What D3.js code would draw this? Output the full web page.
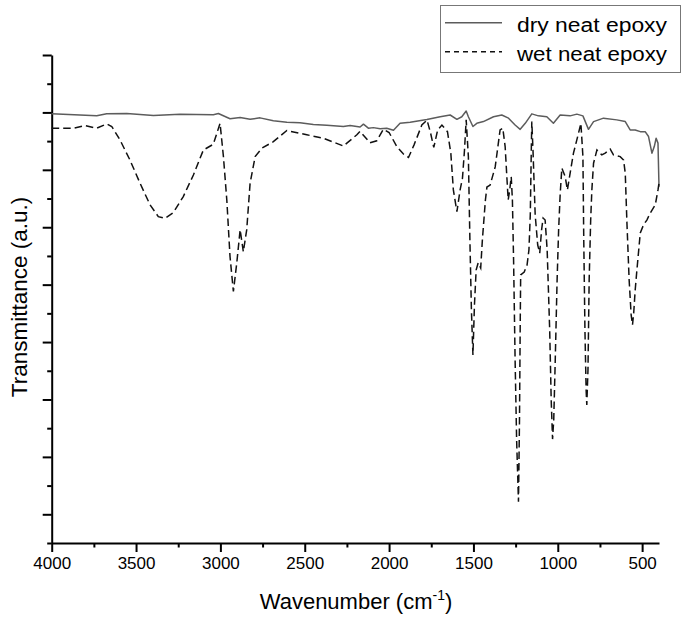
<!DOCTYPE html>
<html>
<head>
<meta charset="utf-8">
<script src="https://cdn.jsdelivr.net/npm/d3@7"></script>
<style>
  body { margin: 0; background: #fff; }
  svg { display: block; font-family: "Liberation Sans", Arial, sans-serif; }
</style>
</head>
<body>
<script>
// FTIR spectra, [wavenumber (cm-1), transmittance (a.u.)]
const dry = [
  [4000,14.95],[3733,14.88],[3674,14.95],[3555,14.96],[3397,14.89],[3239,14.94],
  [3042,14.92],[3012,14.96],[2943,14.78],[2883,14.82],[2824,14.76],[2765,14.81],
  [2686,14.71],[2606,14.66],[2528,14.64],[2449,14.58],[2369,14.55],[2271,14.51],
  [2231,14.54],[2172,14.49],[2152,14.59],[2123,14.45],[2093,14.47],[2053,14.43],
  [2014,14.45],[1974,14.38],[1935,14.62],[1875,14.66],[1776,14.75],[1697,14.85],
  [1638,14.91],[1598,14.76],[1569,14.85],[1543,15.05],[1530,14.85],[1503,14.51],
  [1480,14.62],[1441,14.68],[1381,14.85],[1332,14.91],[1292,14.80],[1253,14.56],
  [1223,14.41],[1193,14.62],[1154,14.95],[1115,14.88],[1065,14.85],[1026,14.62],
  [986,14.91],[927,14.88],[887,14.94],[851,14.88],[818,14.41],[788,14.68],
  [729,14.80],[650,14.74],[600,14.68],[571,14.39],[541,14.39],[511,14.33],
  [482,14.33],[462,14.16],[442,13.58],[428,13.81],[417,14.10],[406,13.93],[400,12.41]
];
const wet = [
  [4000,14.45],[3872,14.45],[3803,14.54],[3733,14.45],[3674,14.60],[3644,14.51],
  [3595,14.04],[3536,13.34],[3476,12.53],[3417,11.78],[3368,11.37],[3328,11.31],
  [3279,11.51],[3220,12.07],[3160,12.82],[3101,13.69],[3042,13.89],[3002,14.62],
  [2982,13.46],[2962,11.95],[2943,9.98],[2923,8.76],[2903,9.75],[2883,10.91],
  [2864,10.15],[2844,10.91],[2824,12.53],[2794,13.46],[2755,13.75],[2686,13.98],
  [2606,14.37],[2488,14.22],[2389,14.10],[2271,13.83],[2191,14.22],[2172,14.34],
  [2113,13.94],[2073,14.01],[2034,14.41],[2000,14.30],[1954,13.81],[1915,13.55],
  [1885,13.43],[1852,13.87],[1806,14.56],[1775,14.73],[1754,14.28],[1735,13.78],
  [1712,14.39],[1687,14.56],[1654,14.33],[1634,13.58],[1619,12.30],[1598,11.54],
  [1579,12.30],[1565,12.71],[1553,13.69],[1543,14.74],[1530,13.46],[1521,10.56],
  [1512,8.12],[1503,6.55],[1494,8.29],[1484,9.51],[1472,9.76],[1457,9.58],
  [1447,10.56],[1438,11.25],[1429,11.95],[1420,12.40],[1401,12.47],[1371,13.10],
  [1342,14.39],[1326,14.45],[1312,13.81],[1302,12.76],[1294,11.95],[1285,12.30],
  [1276,12.76],[1269,11.95],[1262,9.86],[1253,6.38],[1244,3.59],[1233,1.44],
  [1227,4.29],[1223,7.42],[1220,9.34],[1199,9.44],[1182,9.69],[1171,10.21],
  [1163,11.43],[1157,13.69],[1154,14.68],[1147,13.69],[1134,11.43],[1119,10.38],
  [1107,10.10],[1096,10.91],[1087,11.32],[1075,11.25],[1063,10.21],[1048,7.42],
  [1039,4.98],[1031,3.62],[1024,4.29],[1015,6.38],[1004,9.16],[995,10.91],
  [986,12.13],[976,13.06],[956,12.76],[943,12.30],[927,12.88],[907,13.58],
  [877,14.28],[863,14.62],[851,13.46],[846,10.56],[839,7.42],[832,5.33],
  [828,4.81],[821,6.03],[814,9.16],[805,11.25],[798,12.30],[788,13.23],
  [768,13.69],[739,13.52],[719,13.58],[689,13.72],[670,13.52],[630,13.46],
  [610,13.34],[600,12.88],[590,11.14],[577,9.16],[565,7.94],[557,7.60],
  [550,8.01],[541,8.82],[531,9.51],[511,10.80],[492,11.08],[472,11.25],
  [452,11.49],[422,11.78],[406,12.30],[400,12.54]
];

const seriesNames = ['dry neat epoxy', 'wet neat epoxy'];
const xMajor = [4000, 3500, 3000, 2500, 2000, 1500, 1000, 500];
const xMinor = [3750, 3250, 2750, 2250, 1750, 1250, 750];
const yMajor = [1, 3, 5, 7, 9, 11, 13, 15, 17];
const yMinor = [0, 2, 4, 6, 8, 10, 12, 14, 16];

const [w, h] = [685, 621];
const svg = d3.select('body').append('svg')
    .attr('width', w)
    .attr('height', h);

const x = d3.scaleLinear().domain([4000, 400]).range([51.7, 659]);
const y = d3.scaleLinear().domain([0, 17]).range([543, 55]);

// axes
const xAxisG = svg.append('g').attr('transform', 'translate(0,543)');
xAxisG.call(d3.axisBottom(x).tickValues(xMajor).tickSize(9).tickSizeOuter(0).tickFormat(d3.format('d')));
xAxisG.append('g').call(d3.axisBottom(x).tickValues(xMinor).tickSize(4.5).tickFormat(''))
    .select('.domain').remove();

const yAxisG = svg.append('g').attr('transform', 'translate(51.7,0)');
yAxisG.call(d3.axisLeft(y).tickValues(yMajor).tickSize(9).tickSizeOuter(0).tickFormat(''));
yAxisG.append('g').call(d3.axisLeft(y).tickValues(yMinor).tickSize(4.5).tickFormat(''))
    .select('.domain').remove();

svg.selectAll('.domain').attr('stroke', '#000').attr('stroke-width', 2);
svg.selectAll('.tick line').attr('stroke', '#000').attr('stroke-width', 2);
xAxisG.selectAll('.tick text')
    .attr('font-size', '17px')
    .attr('font-family', '"Liberation Sans", Arial, sans-serif')
    .attr('fill', '#000')
    .attr('dy', 0)
    .attr('y', 26);

// curves
const line = d3.line().x(d => x(d[0])).y(d => y(d[1]));

svg.append('path')
    .datum(dry)
    .attr('fill', 'none')
    .attr('stroke', '#5c5c5c')
    .attr('stroke-width', 1.5)
    .attr('stroke-linejoin', 'round')
    .attr('d', line);

svg.append('path')
    .datum(wet)
    .attr('fill', 'none')
    .attr('stroke', '#111')
    .attr('stroke-width', 1.5)
    .attr('stroke-dasharray', '7.5,4')
    .attr('d', line);

// axis titles
const xTitle = svg.append('text')
    .attr('x', 356)
    .attr('y', 609)
    .attr('text-anchor', 'middle')
    .attr('font-size', '22px')
    .attr('fill', '#000');
xTitle.append('tspan').text('Wavenumber (cm');
xTitle.append('tspan').attr('dy', -9).attr('font-size', '14px').text('-1');
xTitle.append('tspan').attr('dy', 9).text(')');

svg.append('text')
    .attr('transform', 'translate(27,297) rotate(-90)')
    .attr('text-anchor', 'middle')
    .attr('font-size', '22.5px')
    .attr('fill', '#000')
    .text('Transmittance (a.u.)');

// legend
const legend = svg.append('g').attr('id', 'legend');
legend.append('rect')
    .attr('x', 440.5).attr('y', 5.5)
    .attr('width', 240).attr('height', 67)
    .attr('fill', '#fff')
    .attr('stroke', '#777')
    .attr('stroke-width', 1);

const legendStyles = [
  { stroke: '#5c5c5c', dash: null },
  { stroke: '#111', dash: '5,4' }
];
seriesNames.forEach((name, i) => {
  const ly = 22.7 + i * 29;
  legend.append('line')
      .attr('x1', 445).attr('x2', 502)
      .attr('y1', ly).attr('y2', ly)
      .attr('stroke', legendStyles[i].stroke)
      .attr('stroke-width', 1.4)
      .attr('stroke-dasharray', legendStyles[i].dash);
  legend.append('text')
      .attr('x', 517)
      .attr('y', ly + 9)
      .attr('font-size', '20px')
      .attr('fill', '#000')
      .attr('textLength', 150)
      .attr('lengthAdjust', 'spacingAndGlyphs')
      .text(name);
});
</script>
</body>
</html>
